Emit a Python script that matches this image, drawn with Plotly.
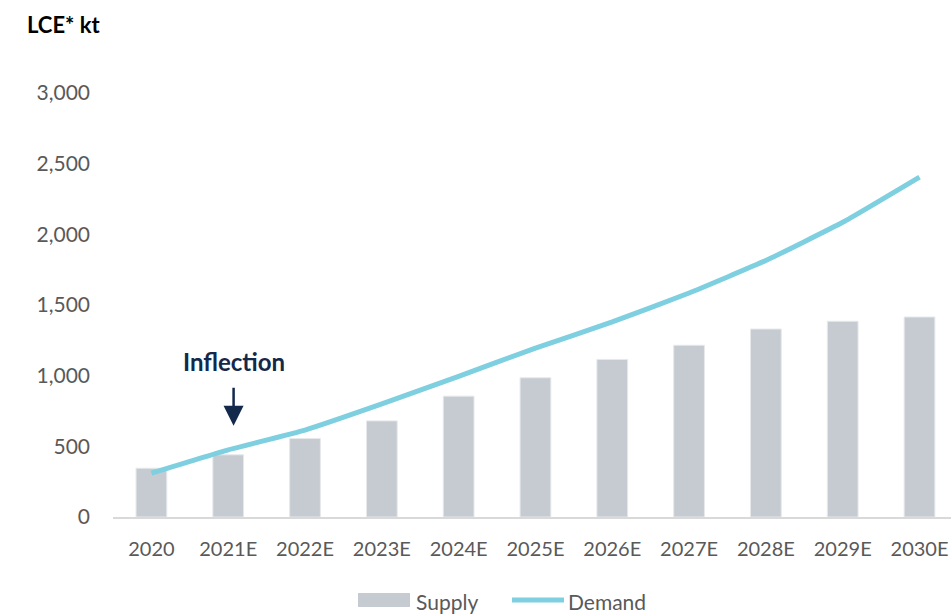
import plotly.graph_objects as go

# Lithium carbonate equivalent supply vs demand, kt
years = ["2020", "2021E", "2022E", "2023E", "2024E", "2025E",
         "2026E", "2027E", "2028E", "2029E", "2030E"]
supply = [345, 440, 555, 680, 855, 985, 1115, 1215, 1330, 1385, 1415]
demand = [310, 475, 615, 800, 995, 1195, 1380, 1585, 1815, 2085, 2405]
y_ticks = [0, 500, 1000, 1500, 2000, 2500, 3000]

TICK_GREY = "#595959"
BAR_GREY = "#C6CBD2"
LINE_BLUE = "#7ECFDF"
NAVY = "#13294B"
FONT = "Lato"

# plot-area geometry in pixels, used to place the hand-built legend
L, R, T, B = 113, 951, 93, 517
W, H = R - L, B - T


def px(xp):
    return (xp - L) / W


def py(yp):
    return (B - yp) / H


fig = go.Figure()
fig.add_trace(go.Bar(
    x=years, y=supply, name="Supply", showlegend=False,
    marker=dict(color=BAR_GREY, line=dict(color="#E6E8EB", width=1)),
    width=0.4,
))
fig.add_trace(go.Scatter(
    x=years, y=demand, name="Demand", mode="lines", showlegend=False,
    line=dict(color=LINE_BLUE, width=5, shape="spline", smoothing=0.4),
))

# "Inflection" callout with a downward arrow near 2021E
fig.add_annotation(
    x=1.07, y=1098, xref="x", yref="y", text="<b>Inflection</b>",
    showarrow=False, font=dict(family=FONT, size=24, color=NAVY),
)
fig.add_annotation(
    x=1.07, y=645, xref="x", yref="y",
    ax=1.07, ay=925, axref="x", ayref="y",
    text="", showarrow=True, arrowhead=2, arrowsize=1.6,
    arrowwidth=2.5, arrowcolor=NAVY,
)

# Unit label
fig.add_annotation(
    x=px(25), y=py(25), xref="paper", yref="paper", text="<b>LCE* kt</b>",
    xanchor="left", yanchor="middle", showarrow=False,
    font=dict(family=FONT, size=22, color="#000000"),
)

# Legend: grey block for supply, blue stroke for demand
fig.add_shape(type="rect", xref="paper", yref="paper",
              x0=px(358), x1=px(410), y0=py(607), y1=py(593),
              fillcolor=BAR_GREY, line=dict(width=0))
fig.add_annotation(x=px(414), y=py(601), xref="paper", yref="paper",
                   text="Supply", xanchor="left", yanchor="middle",
                   showarrow=False,
                   font=dict(family=FONT, size=21, color=TICK_GREY))
fig.add_shape(type="line", xref="paper", yref="paper",
              x0=px(512), x1=px(564), y0=py(600), y1=py(600),
              line=dict(color=LINE_BLUE, width=5))
fig.add_annotation(x=px(566), y=py(601), xref="paper", yref="paper",
                   text="Demand", xanchor="left", yanchor="middle",
                   showarrow=False,
                   font=dict(family=FONT, size=21, color=TICK_GREY))

fig.update_layout(
    width=951, height=616,
    margin=dict(l=L, r=951 - R, t=T, b=616 - B),
    paper_bgcolor="white", plot_bgcolor="white",
    font=dict(family=FONT, size=20, color=TICK_GREY),
    showlegend=False,
    xaxis=dict(
        type="category", range=[-0.5, 10.41],
        showgrid=False, showline=True, linecolor="#D9D9D9", linewidth=1.5,
        ticks="", ticklabelstandoff=13,
        tickfont=dict(family=FONT, size=20, color=TICK_GREY),
    ),
    yaxis=dict(
        range=[0, 3000], tickvals=y_ticks, tickformat=",",
        showgrid=False, showline=False, zeroline=False,
        ticks="", ticklabelstandoff=22,
        tickfont=dict(family=FONT, size=21, color=TICK_GREY),
    ),
)

fig.write_html("out.html")
